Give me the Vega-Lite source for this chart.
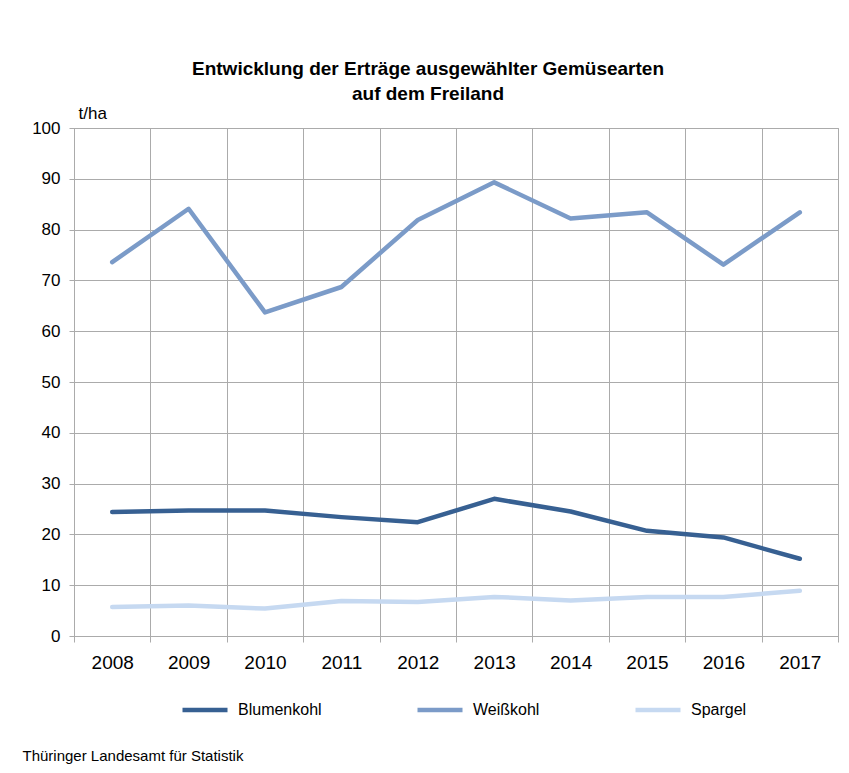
{
  "$schema": "https://vega.github.io/schema/vega-lite/v6.json",
  "autosize": {"type": "none"},
  "width": 764,
  "height": 508,
  "padding": {"left": 74, "top": 128, "right": 11, "bottom": 137},
  "background": "white",
  "config": {
    "font": "Liberation Sans",
    "view": {"stroke": "#ababab", "strokeWidth": 1},
    "axis": {"gridColor": "#ababab", "domainColor": "#ababab", "tickColor": "#ababab", "labelColor": "#000000", "titleColor": "#000000"}
  },
  "title": {
    "text": ["Entwicklung der Erträge ausgewählter Gemüsearten", "auf dem Freiland"],
    "fontSize": 19,
    "fontWeight": "bold",
    "color": "#000000",
    "anchor": "middle",
    "dx": -28,
    "offset": 0,
    "lineHeight": 25
  },
  "data": {
    "values": [
      {"year": "2008", "sorte": "Blumenkohl", "ertrag": 24.4},
      {"year": "2009", "sorte": "Blumenkohl", "ertrag": 24.7},
      {"year": "2010", "sorte": "Blumenkohl", "ertrag": 24.7},
      {"year": "2011", "sorte": "Blumenkohl", "ertrag": 23.4},
      {"year": "2012", "sorte": "Blumenkohl", "ertrag": 22.4},
      {"year": "2013", "sorte": "Blumenkohl", "ertrag": 27.0},
      {"year": "2014", "sorte": "Blumenkohl", "ertrag": 24.5},
      {"year": "2015", "sorte": "Blumenkohl", "ertrag": 20.7},
      {"year": "2016", "sorte": "Blumenkohl", "ertrag": 19.4},
      {"year": "2017", "sorte": "Blumenkohl", "ertrag": 15.2},
      {"year": "2008", "sorte": "Weißkohl", "ertrag": 73.6},
      {"year": "2009", "sorte": "Weißkohl", "ertrag": 84.1},
      {"year": "2010", "sorte": "Weißkohl", "ertrag": 63.7},
      {"year": "2011", "sorte": "Weißkohl", "ertrag": 68.7},
      {"year": "2012", "sorte": "Weißkohl", "ertrag": 81.9},
      {"year": "2013", "sorte": "Weißkohl", "ertrag": 89.3},
      {"year": "2014", "sorte": "Weißkohl", "ertrag": 82.2},
      {"year": "2015", "sorte": "Weißkohl", "ertrag": 83.4},
      {"year": "2016", "sorte": "Weißkohl", "ertrag": 73.1},
      {"year": "2017", "sorte": "Weißkohl", "ertrag": 83.4},
      {"year": "2008", "sorte": "Spargel", "ertrag": 5.7},
      {"year": "2009", "sorte": "Spargel", "ertrag": 6.0},
      {"year": "2010", "sorte": "Spargel", "ertrag": 5.4},
      {"year": "2011", "sorte": "Spargel", "ertrag": 6.9},
      {"year": "2012", "sorte": "Spargel", "ertrag": 6.7},
      {"year": "2013", "sorte": "Spargel", "ertrag": 7.7},
      {"year": "2014", "sorte": "Spargel", "ertrag": 7.0},
      {"year": "2015", "sorte": "Spargel", "ertrag": 7.7},
      {"year": "2016", "sorte": "Spargel", "ertrag": 7.7},
      {"year": "2017", "sorte": "Spargel", "ertrag": 8.9}
    ]
  },
  "mark": {"type": "line", "strokeWidth": 4.5, "strokeCap": "round", "strokeJoin": "round"},
  "encoding": {
    "x": {
      "field": "year",
      "type": "ordinal",
      "scale": {"type": "band", "paddingInner": 0, "paddingOuter": 0},
      "axis": {
        "tickBand": "extent",
        "grid": true,
        "labelAngle": 0,
        "labelFontSize": 19,
        "labelPadding": 11,
        "tickSize": 6,
        "title": "Thüringer  Landesamt für Statistik",
        "titleFontSize": 15,
        "titleFontWeight": "normal",
        "titleAnchor": "start",
        "titleAlign": "left",
        "titleBaseline": "alphabetic",
        "titleX": -52,
        "titleY": 124
      }
    },
    "y": {
      "field": "ertrag",
      "type": "quantitative",
      "scale": {"domain": [0, 100], "nice": false},
      "axis": {
        "values": [0, 10, 20, 30, 40, 50, 60, 70, 80, 90, 100],
        "labelFontSize": 17,
        "labelPadding": 9,
        "tickSize": 5,
        "title": "t/ha",
        "titleAngle": 0,
        "titleFontSize": 17,
        "titleFontWeight": "normal",
        "titleAlign": "left",
        "titleBaseline": "alphabetic",
        "titleX": 4,
        "titleY": -10
      }
    },
    "color": {
      "field": "sorte",
      "type": "nominal",
      "scale": {"domain": ["Blumenkohl", "Weißkohl", "Spargel"], "range": ["#376092", "#7b9bc8", "#c6d9f1"]},
      "legend": {
        "title": null,
        "orient": "none",
        "direction": "horizontal",
        "columns": 3,
        "legendX": 106,
        "legendY": 557,
        "symbolType": "stroke",
        "symbolSize": 2025,
        "symbolStrokeWidth": 4.5,
        "labelFontSize": 16,
        "labelColor": "#000000",
        "labelOffset": 8,
        "columnPadding": 86
      }
    }
  }
}
